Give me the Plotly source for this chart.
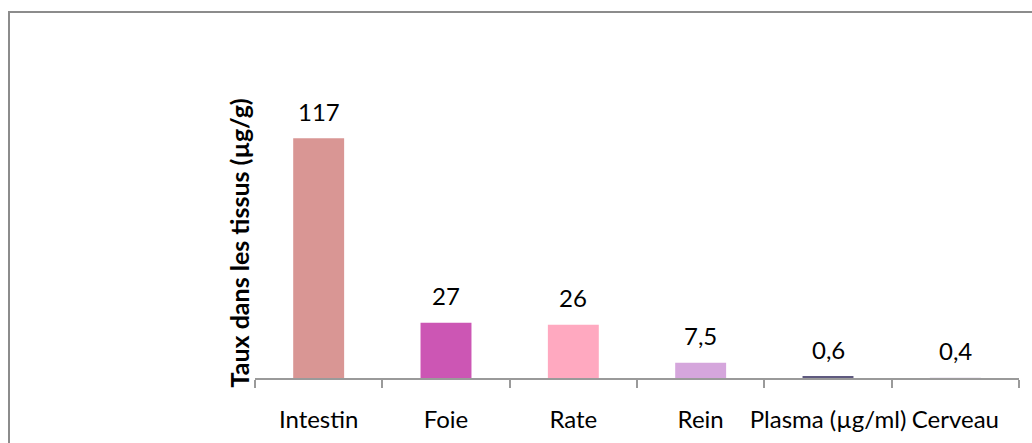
import plotly.graph_objects as go

# Tissue concentrations
categories = ["Intestin", "Foie", "Rate", "Rein", "Plasma (µg/ml)", "Cerveau"]
values = [117, 27, 26, 7.5, 0.6, 0.4]
value_labels = ["117", "27", "26", "7,5", "0,6", "0,4"]
bar_colors = ["#D99694", "#CC56B4", "#FFA9C0", "#D5A6DC", "#5F5A7F", "#F2EEF5"]

FONT = "Lato"
W, H = 1032, 443
ML, MR, MT, MB = 255, 13, 91, 65
PW, PH = W - ML - MR, H - MT - MB


def px_x(px):
    return (px - ML) / PW


def px_y(py):
    return (H - MB - py) / PH


fig = go.Figure(
    go.Bar(
        x=categories,
        y=values,
        marker=dict(color=bar_colors, line=dict(width=0)),
        hoverinfo="skip",
    )
)

# value labels above each bar
for cat, val, lab in zip(categories, values, value_labels):
    fig.add_annotation(
        x=cat, y=val, text=lab, showarrow=False,
        yanchor="middle", yshift=27,
        font=dict(family=FONT, size=24, color="#000000"),
    )

# vertical axis title
fig.add_annotation(
    xref="paper", yref="paper",
    x=px_x(238), y=px_y(243.5),
    text="<b>Taux dans les tissus (µg/g)</b>",
    textangle=-90, showarrow=False,
    xanchor="center", yanchor="middle",
    font=dict(family=FONT, size=25, color="#000000"),
)

# chart frame
fig.add_shape(
    type="rect", xref="paper", yref="paper",
    x0=px_x(9), x1=1.3, y0=-1.0, y1=px_y(12),
    line=dict(color="#8C8C8C", width=2), fillcolor="rgba(0,0,0,0)",
    layer="below",
)

fig.update_layout(
    width=W, height=H,
    margin=dict(l=ML, r=MR, t=MT, b=MB, pad=0, autoexpand=False),
    paper_bgcolor="white", plot_bgcolor="white",
    bargap=0.6,
    showlegend=False,
    font=dict(family=FONT, size=24, color="#000000"),
)
fig.update_xaxes(
    type="category", automargin=False,
    showline=True, linecolor="#9A9A9A", linewidth=2,
    ticks="outside", tickson="boundaries", ticklen=8, tickwidth=2, tickcolor="#9A9A9A",
    tickfont=dict(family=FONT, size=24, color="#000000"),
    tickangle=0,
    ticklabelstandoff=19,
    showgrid=False, zeroline=False,
)
fig.update_yaxes(
    range=[0, 140], visible=False, showgrid=False, zeroline=False, automargin=False,
)

fig.write_html("out.html")
